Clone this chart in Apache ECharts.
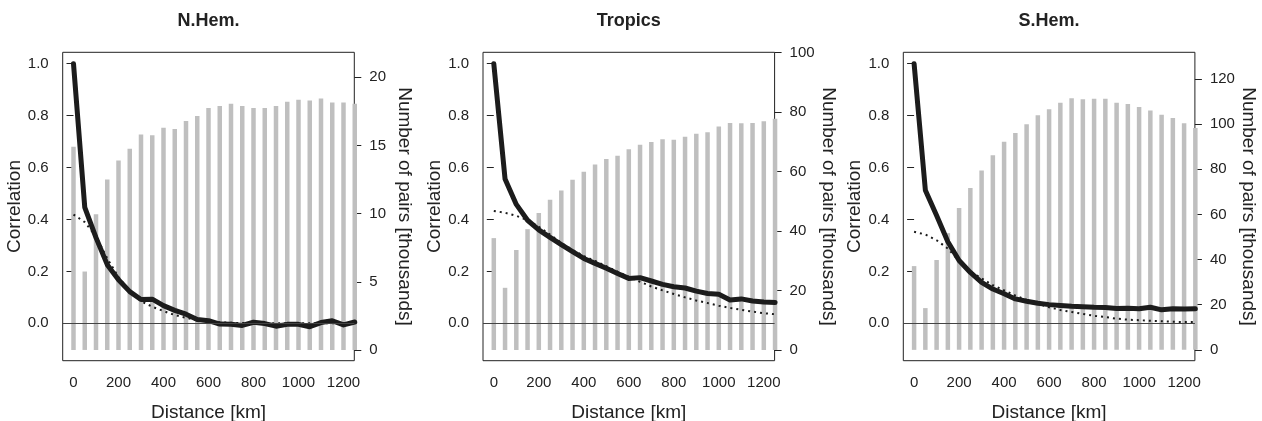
<!DOCTYPE html>
<html>
<head>
<meta charset="utf-8">
<script src="https://cdn.jsdelivr.net/npm/echarts@6/dist/echarts.min.js"></script>
<style>
html,body{margin:0;padding:0;background:#fff;}
#chart{width:1262px;height:421px;}
</style>
</head>
<body>
<div id="chart"></div>
<script>
// ---------------- data ----------------
const distance = [0, 50, 100, 150, 200, 250, 300, 350, 400, 450, 500, 550, 600, 650, 700, 750, 800, 850, 900, 950, 1000, 1050, 1100, 1150, 1200, 1250];
const panelTitles = ['N.Hem.', 'Tropics', 'S.Hem.'];

// Number of pairs [thousands]
const nhemPairs = [14.9, 5.75, 9.95, 12.5, 13.9, 14.75, 15.8, 15.75, 16.3, 16.2, 16.8, 17.15, 17.75, 17.9, 18.05, 17.9, 17.75, 17.75, 17.9, 18.2, 18.35, 18.3, 18.45, 18.15, 18.15, 18.05];
const tropPairs = [37.6, 20.9, 33.6, 40.6, 46.0, 50.5, 53.6, 57.2, 59.9, 62.3, 64.2, 65.3, 67.5, 69.0, 69.9, 70.8, 70.7, 71.7, 72.7, 73.2, 75.1, 76.3, 76.2, 76.3, 76.9, 77.7];
const shemPairs = [37.1, 18.5, 39.8, 51.7, 62.8, 71.7, 79.4, 86.2, 92.2, 96.1, 99.9, 103.9, 106.6, 109.4, 111.5, 111.0, 111.2, 111.2, 109.4, 108.9, 107.6, 106.0, 104.1, 102.7, 100.4, 98.3];

// Observed correlation (solid)
const nhemCorr = [1.0, 0.447, 0.33, 0.226, 0.168, 0.122, 0.092, 0.093, 0.068, 0.05, 0.035, 0.015, 0.01, -0.003, -0.004, -0.008, 0.004, -0.001, -0.011, -0.004, -0.004, -0.013, 0.003, 0.01, -0.006, 0.005];
const tropCorr = [1.0, 0.556, 0.458, 0.397, 0.36, 0.331, 0.303, 0.276, 0.25, 0.231, 0.212, 0.192, 0.173, 0.176, 0.163, 0.15, 0.141, 0.136, 0.124, 0.115, 0.112, 0.09, 0.094, 0.086, 0.082, 0.08];
const shemCorr = [1.0, 0.513, 0.415, 0.314, 0.242, 0.196, 0.158, 0.132, 0.114, 0.094, 0.085, 0.077, 0.072, 0.069, 0.066, 0.064, 0.062, 0.061, 0.057, 0.058, 0.056, 0.062, 0.052, 0.056, 0.055, 0.056];

// Fitted correlation (dotted)
const nhemFit = [0.419, 0.39, 0.335, 0.25, 0.178, 0.125, 0.085, 0.064, 0.047, 0.032, 0.021, 0.013, 0.007, 0.004, 0.002, 0.001, 0.001, 0.0005, 0, 0, 0, 0, 0, 0, 0, 0];
const tropFit = [0.433, 0.426, 0.414, 0.397, 0.372, 0.342, 0.31, 0.283, 0.259, 0.24, 0.22, 0.199, 0.179, 0.16, 0.142, 0.127, 0.113, 0.1, 0.088, 0.078, 0.068, 0.059, 0.052, 0.045, 0.039, 0.035];
const shemFit = [0.353, 0.342, 0.32, 0.288, 0.24, 0.2, 0.173, 0.147, 0.127, 0.107, 0.09, 0.075, 0.062, 0.051, 0.044, 0.036, 0.029, 0.024, 0.018, 0.014, 0.012, 0.01, 0.008, 0.006, 0.005, 0.005];

// Tick labels
const distTicks = [0, 200, 400, 600, 800, 1000, 1200];
const corrTicks = [0, 0.2, 0.4, 0.6, 0.8, 1.0];
const nhemPairTicks = [0, 5, 10, 15, 20];
const tropPairTicks = [0, 20, 40, 60, 80, 100];
const shemPairTicks = [0, 20, 40, 60, 80, 100, 120];

// ---------------- layout ----------------
const FONT = "'Liberation Sans', Arial, Helvetica, sans-serif";
const TXT = '#222';
const panelOffsets = [0, 420.3, 840.6];
const gridLeft = 62.7, gridTop = 52.3, gridW = 291.6, gridH = 308.4;
const pairRanges = [[-0.79, 21.83], [-3.6, 100.05], [-4.8, 131.8]];
const corrRange = [-0.144, 1.044];
const distRange = [-48, 1248];

const pairsData = [nhemPairs, tropPairs, shemPairs];
const corrData = [nhemCorr, tropCorr, shemCorr];
const fitData = [nhemFit, tropFit, shemFit];
const pairTicks = [nhemPairTicks, tropPairTicks, shemPairTicks];

const grids = [], xAxes = [], yAxes = [], series = [], graphics = [];
const tickStyle = { show: true, inside: false, length: 7, lineStyle: { color: TXT, width: 1 } };

for (let i = 0; i < 3; i++) {
  const off = panelOffsets[i];
  grids.push({
    left: gridLeft + off, top: gridTop, width: gridW, height: gridH,
    show: true, borderColor: TXT, borderWidth: 1, backgroundColor: 'transparent',
    containLabel: false, outerBoundsMode: 'none'
  });
  xAxes.push({
    type: 'value', gridIndex: i, min: distRange[0], max: distRange[1],
    name: 'Distance [km]', nameLocation: 'middle', nameGap: 43,
    nameTextStyle: { fontFamily: FONT, fontSize: 19, color: TXT },
    axisLine: { show: false },
    axisTick: Object.assign({ customValues: distTicks }, tickStyle),
    axisLabel: { customValues: distTicks, margin: 15, fontFamily: FONT, fontSize: 15, color: TXT,
      formatter: v => String(v) },
    splitLine: { show: false }
  });
  yAxes.push({
    type: 'value', gridIndex: i, position: 'left', min: corrRange[0], max: corrRange[1],
    name: 'Correlation', nameLocation: 'middle', nameGap: 34,
    nameTextStyle: { fontFamily: FONT, fontSize: 19, color: TXT },
    axisLine: { show: false },
    axisTick: Object.assign({ customValues: corrTicks }, tickStyle),
    axisLabel: { customValues: corrTicks, margin: 14, fontFamily: FONT, fontSize: 15, color: TXT,
      formatter: v => Number(v).toFixed(1) },
    splitLine: { show: false }
  });
  yAxes.push({
    type: 'value', gridIndex: i, position: 'right', min: pairRanges[i][0], max: pairRanges[i][1],
    name: 'Number of pairs [thousands]', nameLocation: 'middle', nameGap: 40, nameRotate: -90,
    nameTextStyle: { fontFamily: FONT, fontSize: 19, color: TXT },
    axisLine: { show: false },
    axisTick: Object.assign({ customValues: pairTicks[i] }, tickStyle),
    axisLabel: { customValues: pairTicks[i], margin: 15, fontFamily: FONT, fontSize: 15, color: TXT,
      formatter: v => String(v) },
    splitLine: { show: false }
  });

  series.push({
    type: 'bar', xAxisIndex: i, yAxisIndex: 2 * i + 1,
    data: distance.map((d, k) => [d, pairsData[i][k]]),
    barWidth: 4.5, itemStyle: { color: '#bfbfbf' }, clip: true, z: 1,
    silent: true
  });
  series.push({
    type: 'line', xAxisIndex: i, yAxisIndex: 2 * i,
    data: distance.map((d, k) => [d, fitData[i][k]]),
    showSymbol: false, symbol: 'none', clip: true, z: 3,
    lineStyle: { color: '#1a1a1a', width: 2, type: [2, 4], cap: 'butt' },
    silent: true
  });
  series.push({
    type: 'line', xAxisIndex: i, yAxisIndex: 2 * i,
    data: distance.map((d, k) => [d, corrData[i][k]]),
    showSymbol: false, symbol: 'none', clip: true, z: 4,
    lineStyle: { color: '#1c1c1c', width: 5, cap: 'round', join: 'round' },
    markLine: {
      silent: true, symbol: ['none', 'none'], label: { show: false },
      lineStyle: { color: '#444', width: 1, type: 'solid' },
      data: [{ yAxis: 0 }], animation: false
    },
    silent: true
  });

  graphics.push({
    type: 'text', x: gridLeft + off + gridW / 2, y: 21.5,
    style: { text: panelTitles[i], fill: TXT, font: 'bold 18px ' + FONT,
      textAlign: 'center', textVerticalAlign: 'middle', align: 'center', verticalAlign: 'middle' }
  });
}

const chart = echarts.init(document.getElementById('chart'), null, { renderer: 'canvas' });
chart.setOption({
  animation: false,
  backgroundColor: '#fff',
  textStyle: { fontFamily: FONT },
  grid: grids, xAxis: xAxes, yAxis: yAxes, series: series,
  graphic: graphics
});
</script>
</body>
</html>
